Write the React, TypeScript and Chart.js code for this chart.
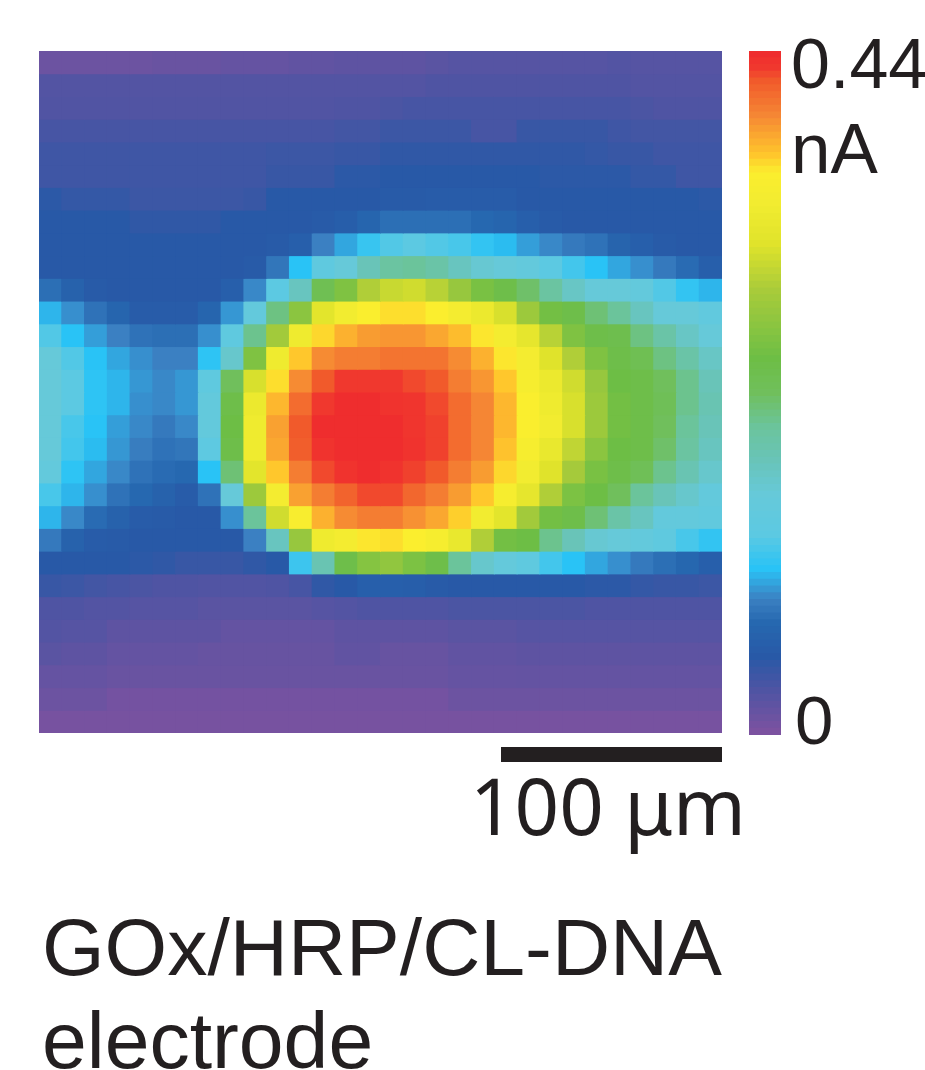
import React, { useEffect, useRef } from "react";
import { Chart, registerables } from "chart.js";

Chart.register(...registerables);

// Heat levels in percent of the 0–0.44 nA colour scale, one list per scan line, top to bottom.
const heatLevels: number[][] = [
  [2,2,2,2,2,2.5,2.5,2.5,3,3,3,3.5,3.5,4,4,4,4,4.5,5,5,5,5,5,5,5,5.5,5,5,5,5],
  [5.5,5.5,5.5,5.5,5.5,5.5,5.5,5.5,5.5,5.5,5.5,5.5,5.5,5.5,5.5,5.5,5.5,6,6,6,6,6,6,6,6,6,5.5,5.5,5.5,5.5],
  [5.7,5.7,5.7,5.7,5.7,5.7,5.7,5.7,5.7,5.7,5.7,5.7,5.7,6,6,6.5,7,7,7,7,7,7,7,7,7,7,6.5,6,6,6],
  [7,7,7,7,7,7,7,7,7,7,7,7,7,7.5,7.5,8.5,8.5,8.5,8.5,7,7,9,9,9,9,8,7.5,7.5,7.5,7.5],
  [8,8,8,8,8,8,8,8,8,8,8.5,8.5,8.5,9,9,10,10,10,10,10,10,10,10,10,9.5,9,9,8,8,8],
  [8,8,8,8,8,8,8,8,8,8,9,9,9,10.5,10.5,11,11,11,11,11,11,11,10.5,10.5,10.5,10.5,9.5,9.5,8,8],
  [10.5,9.5,9.5,9.5,8.5,8.5,8.5,8.5,8.5,9,11,11,11,11,11,11.5,11.5,12,12,12,12,11,11,11,11,11,11,11,11,10.5],
  [11,11,11,11,10,10,10,10,11,11,11,11,11.5,12.5,15,17,17,17,17,16,15,13,11.5,11,11,11,11,11,11,11],
  [11,11,11,11,11,11,11,11,11,11,11.5,13,19.5,22,25.5,28,29,28,27,25,23.5,21.5,20,18.5,17.5,14.5,13,11.5,11,11],
  [11,11,11,11,11,11,11,11,11,11.5,18,24,31,35,40,44,45,43,39,36,35,33,29,26.5,24,22,20.5,18.5,16.5,13],
  [17,14,11.5,11,11,11,11,11,13,20,29,39,52,58,66,69,70,67,62,57,54,49,44,38,35,35,33,28,25,23],
  [23,20.5,17.5,15,12,12,12,15,21,33,47,60,73,78,82,83.5,83.5,82.5,79,76,71,63,56,54,48,45,39,35,35,32],
  [28,24,21.5,19.5,17.5,17,17,20.5,31,46,64,77,84,87,89,89.5,89.5,88,86,83,79,74,67,58,54,53,47,43,38,35],
  [35,28,24,22,20.5,19.5,19.5,24.5,37,58,77,85,90.5,92,92,93,93,93,90.5,87,83,79,72,66,58,54,52,47,43,38],
  [35,29,24.5,23,21,20,21,31,50,71,83.5,90.5,96,98,98,98,97,96,92,89.5,85,80,76,70,62,55,54,50,46,40],
  [35,29,24.5,23,20.5,20,21,33,54,76,86.5,94,98,100,100,99,98.5,97,94,91,86.5,82,77,71,63,56,54,51,46,41],
  [35,27,24,21.5,20,18.5,20,33,55,77,88.5,96,100,100,100,100,98.5,97.5,94,91,86.5,82,78,71,63,56,54,50,45,40],
  [35,26.5,23.5,21,19,17.5,18,30,54,77,88,95.5,99,100,100,100,99,97.5,94,91,85.5,80,75,68,60,55,54,49,44,39],
  [33,24.5,22,20,17.5,16.5,16,24,48,73,85,92,97,99,100,99,97.5,96,92,89,84,78,72,64.5,57,54,51,46,41,37],
  [27,23,20.5,17.5,16,14,12,17.5,35,63,79,88.5,92,95,97,97,94.5,92,89,85,80,74,66,57.5,55,50,45,40,37,33],
  [23,20,16.5,14,12,11.5,11,11,20.5,45,70,81,87,90.5,92,92,90,88,84.5,78,73,64,56,54,48,43,39,33,33,32],
  [18.5,14,12,11.5,11,11,11,11,11,19.5,39,62,77,79,83,83.5,82.5,80,75,66,56,55,46,40,36,35,33,31,27,25],
  [11,11,11,11,10.5,10,9,9,9,10,11,26,41,54,59,61,57.5,54,45,37,34,31,26.5,24,22,20.5,18.5,17,15.5,13],
  [9,8.5,7.5,7,6.5,6,6,5.7,5.7,5.7,6,7,10,11,13,13,12.5,11.5,11,11,11,11,11,11,10.5,10.5,9.5,9,9,8.5],
  [6,6,5.5,5.5,5,5,5,4.5,4.5,4.5,4.5,4.5,5,5.5,6,6,6,6,6.5,6.5,6.5,6.5,6.5,6.5,6,6,6,6,6,6],
  [5.5,5,5,4,4,4,4,4,3.2,3.2,3.2,3.2,3.2,4,4,4,4,4,4.5,4.5,4.5,5,5,5,5,5,5,5,5,5],
  [4.5,4,4,3.2,3.2,3.2,3.2,2.7,2.7,2.7,2.7,2.7,2.7,3.5,3.5,2.7,2.7,2.7,3.5,3.5,3.5,4,4,4,4,4,4,4,4,4],
  [3,3,3,2.5,2.5,2.5,2.5,2.5,2.5,2.5,2.5,2.5,2.5,2.5,2.5,2.5,2.5,2.5,3,3,3,3.2,3.2,3.2,3.2,3.2,3.2,3.2,3.2,3.2],
  [2,2,2,1,1,1,1,1,1,1,1,1,1,1,1,1,1,1,2,2,2,2,2,2,2,2,2,2,2,2],
  [0.5,0.5,0.5,0.5,0.5,0.5,0.5,0.5,0.5,0.5,0.5,0.5,0.5,0.5,0.5,0.5,0.5,0.5,0.5,0.5,0.5,0.5,0.5,0.5,0.5,0.5,0.5,0.5,0.5,0.5],
];

// Colour-bar steps, bottom to top.
const colorbarLevels = [
  0,1,2,3,4,5,6,7,8,9,10,11,12,13,14,15,16,17,18,19,20,21,22,23,24,25,26,27,28,29,
  30,31,32,33,34,35,36,37,38,39,40,41,42,43,44,45,46,47,48,49,50,51,52,53,54,55,56,57,58,59,
  60,61,62,63,64,65,66,67,68,69,70,71,72,73,74,75,76,77,78,79,80,81,82,83,84,85,86,87,88,89,
  90,91,92,93,94,95,96,97,98,99,100,
];

const colorStops: [number, string][] = [
  [0, "#7B52A0"], [6, "#4F54A3"], [11, "#2859A7"], [16, "#2668B0"], [19.5, "#3B80C2"],
  [22, "#32A6DF"], [24, "#29C3F6"], [29, "#5CC9E2"], [35, "#66C9D9"], [40, "#69C4B8"],
  [45, "#6BC49B"], [50, "#70BF5C"], [55, "#6DBE45"], [60, "#8BC540"], [65, "#A8CB3A"],
  [72, "#E0E32B"], [78, "#F2EC30"], [82.5, "#FBEE2E"], [85, "#FFC72C"], [91, "#F58634"],
  [96, "#F15A2B"], [98, "#F0382E"], [100, "#EF2D2E"],
];

const TEXT_COLOR = "#231F20";
const SANS = '"Liberation Sans", Arial, sans-serif';

function hexToRgb(hex: string): number[] {
  return [1, 3, 5].map((i) => parseInt(hex.slice(i, i + 2), 16));
}

function levelColor(level: number): string {
  for (let i = 1; i < colorStops.length; i++) {
    const [p1, c1] = colorStops[i];
    if (level <= p1) {
      const [p0, c0] = colorStops[i - 1];
      const t = (level - p0) / (p1 - p0);
      const a = hexToRgb(c0);
      const b = hexToRgb(c1);
      const mix = a.map((v, k) => Math.round(v + (b[k] - v) * t));
      return `rgb(${mix[0]},${mix[1]},${mix[2]})`;
    }
  }
  return colorStops[colorStops.length - 1][1];
}

const flatScale = (extra: object) => ({ display: false, stacked: true, grid: { display: false }, ...extra });

const baseOptions = {
  responsive: false,
  maintainAspectRatio: false,
  animation: false as const,
  events: [],
  layout: { padding: 0 },
  plugins: { legend: { display: false }, tooltip: { enabled: false }, title: { display: false } },
};

export default function App() {
  const heatRef = useRef<HTMLCanvasElement>(null);
  const barRef = useRef<HTMLCanvasElement>(null);

  useEffect(() => {
    const columns = heatLevels[0].map((_, i) => String(i));
    const heat = new Chart(heatRef.current!, {
      type: "bar",
      data: {
        labels: columns,
        datasets: heatLevels.map((row, r) => ({
          label: `line ${r}`,
          data: row.map(() => 1),
          backgroundColor: row.map(levelColor),
          borderWidth: 0,
          inflateAmount: 0.5,
          barPercentage: 1,
          categoryPercentage: 1,
        })),
      },
      options: {
        ...baseOptions,
        scales: {
          x: flatScale({}),
          y: flatScale({ reverse: true, min: 0, max: heatLevels.length }),
        },
      } as any,
    });
    const bar = new Chart(barRef.current!, {
      type: "bar",
      data: {
        labels: ["nA"],
        datasets: colorbarLevels.map((level) => ({
          label: String(level),
          data: [1],
          backgroundColor: levelColor(level),
          borderWidth: 0,
          inflateAmount: 0.5,
          barPercentage: 1,
          categoryPercentage: 1,
        })),
      },
      options: {
        ...baseOptions,
        scales: {
          x: flatScale({}),
          y: flatScale({ min: 0, max: colorbarLevels.length }),
        },
      } as any,
    });
    return () => {
      heat.destroy();
      bar.destroy();
    };
  }, []);

  const text = (content: string, left: number, top: number, size: number, family = SANS) => (
    <div
      style={{
        position: "absolute",
        left,
        top,
        fontSize: size,
        lineHeight: 1,
        fontFamily: family,
        color: TEXT_COLOR,
        whiteSpace: "nowrap",
      }}
    >
      {content}
    </div>
  );

  return (
    <div style={{ position: "absolute", left: 0, top: 0, width: 925, height: 1070, overflow: "hidden", background: "#fff" }}>
      <canvas ref={heatRef} width={683} height={682} style={{ position: "absolute", left: 39, top: 51 }} />
      <canvas ref={barRef} width={32} height={684} style={{ position: "absolute", left: 749, top: 51 }} />
      {text("0.44", 791, 29, 70)}
      {text("nA", 791, 113, 71)}
      {text("0", 795, 686, 69)}
      <div style={{ position: "absolute", left: 501, top: 747, width: 221, height: 15, background: TEXT_COLOR }} />
      {text("100 μm", 470, 766, 78, '"Noto Sans", sans-serif')}
      {text("GOx/HRP/CL-DNA", 42, 907, 80.5)}
      {text("electrode", 42, 1000, 80.5)}
    </div>
  );
}
